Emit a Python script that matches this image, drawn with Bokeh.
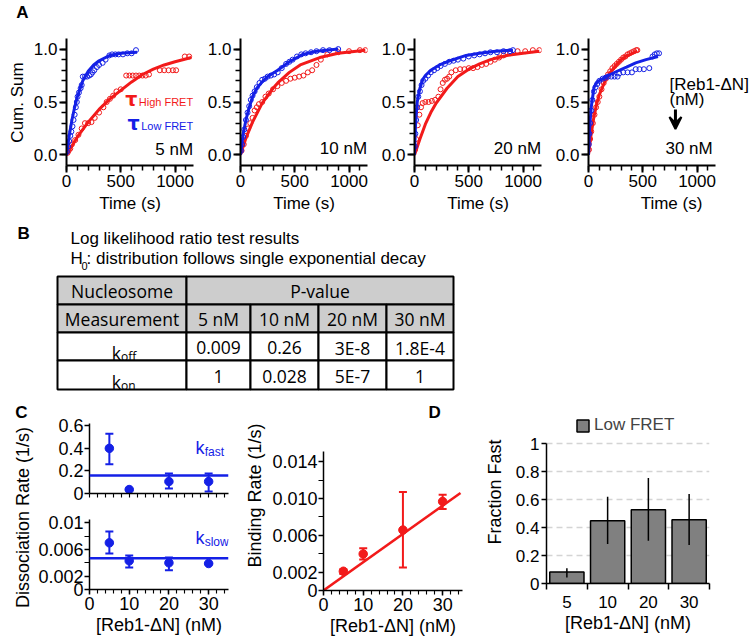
import math
from bokeh.plotting import figure
from bokeh.models import (Range1d, FixedTicker, NumeralTickFormatter, Label, Arrow, VeeHead,
                          Whisker, TeeHead, ColumnDataSource, Legend, LegendItem, Span)
from bokeh.layouts import row, column
from bokeh.embed import file_html
from bokeh.resources import INLINE
from bokeh.core.properties import value

FONT = "Liberation Sans"
TFONT = "Open Sans"
RED = "#f21a1a"
BLUE = "#1420e6"

# ---------------- Panel A data (cumulative sums) ----------------
T_MAX = 1170
# 5 nM
red_dat_t5 = [10, 20, 35, 50, 80, 110, 140, 170, 200, 230, 260, 300, 340, 370, 400, 430, 460, 500, 550, 580, 610, 640, 670, 700, 730, 760, 860, 900, 940, 980, 1010, 1090, 1130]
red_dat_v5 = [0.02, 0.04, 0.06, 0.1, 0.14, 0.19, 0.25, 0.3, 0.3, 0.31, 0.35, 0.4, 0.45, 0.5, 0.53, 0.56, 0.6, 0.62, 0.75, 0.75, 0.75, 0.75, 0.75, 0.75, 0.75, 0.76, 0.8, 0.8, 0.8, 0.8, 0.8, 0.93, 0.93]
red_fit_t5 = [0, 100, 200, 300, 400, 500, 600, 700, 800, 900, 1000, 1150]
red_fit_v5 = [0, 0.17, 0.31, 0.43, 0.53, 0.61, 0.69, 0.76, 0.81, 0.85, 0.88, 0.92]
blue_dat_t5 = [5, 15, 25, 35, 45, 55, 65, 75, 86, 95, 102, 115, 130, 140, 150, 170, 190, 210, 225, 240, 256, 280, 300, 333, 360, 395, 420, 450, 480, 520, 560, 600, 640]
blue_dat_v5 = [0.03, 0.08, 0.13, 0.18, 0.22, 0.27, 0.33, 0.38, 0.45, 0.5, 0.55, 0.59, 0.63, 0.66, 0.74, 0.74, 0.74, 0.75, 0.76, 0.78, 0.8, 0.83, 0.85, 0.87, 0.9, 0.94, 0.95, 0.95, 0.95, 0.95, 0.96, 0.96, 0.99]
blue_fit_t5 = [0, 25, 50, 75, 100, 150, 200, 250, 300, 400, 500, 650]
blue_fit_v5 = [0, 0.18, 0.33, 0.45, 0.55, 0.70, 0.79, 0.85, 0.89, 0.94, 0.96, 0.97]
# 10 nM
red_dat_t10 = [10, 30, 50, 70, 90, 111, 130, 150, 170, 200, 230, 260, 300, 340, 380, 420, 460, 500, 540, 580, 620, 660, 700, 740, 800, 900, 1000, 1100, 1150]
red_dat_v10 = [0.04, 0.1, 0.18, 0.25, 0.3, 0.35, 0.42, 0.45, 0.48, 0.5, 0.55, 0.58, 0.62, 0.65, 0.68, 0.7, 0.72, 0.73, 0.74, 0.75, 0.78, 0.8, 0.85, 0.9, 0.95, 0.97, 0.98, 0.99, 0.99]
red_fit_t10 = [0, 50, 111, 200, 300, 343, 450, 550, 730, 900, 1150]
red_fit_v10 = [0, 0.16, 0.31, 0.49, 0.63, 0.68, 0.78, 0.85, 0.92, 0.96, 0.99]
blue_dat_t10 = [5, 15, 25, 35, 50, 65, 80, 95, 111, 130, 150, 175, 200, 225, 250, 280, 310, 343, 380, 420, 450, 480, 520, 560, 600, 650, 700, 760, 820, 900]
blue_dat_v10 = [0.04, 0.1, 0.17, 0.24, 0.33, 0.4, 0.46, 0.52, 0.56, 0.6, 0.64, 0.68, 0.71, 0.72, 0.74, 0.75, 0.76, 0.78, 0.82, 0.86, 0.88, 0.9, 0.93, 0.95, 0.96, 0.97, 0.98, 0.99, 0.99, 1.0]
blue_fit_t10 = [0, 25, 50, 75, 111, 150, 200, 250, 343, 450, 574, 700, 900]
blue_fit_v10 = [0, 0.2, 0.33, 0.43, 0.55, 0.63, 0.69, 0.74, 0.8, 0.88, 0.95, 0.98, 1.0]
# 20 nM
red_dat_t20 = [5, 15, 30, 45, 60, 75, 100, 130, 160, 190, 220, 240, 260, 280, 300, 320, 340, 380, 420, 460, 500, 540, 580, 620, 660, 700, 740, 780, 820, 880, 950, 1020, 1090, 1150]
red_dat_v20 = [0.05, 0.15, 0.28, 0.38, 0.45, 0.49, 0.5, 0.5, 0.51, 0.52, 0.55, 0.62, 0.68, 0.71, 0.72, 0.74, 0.78, 0.8, 0.81, 0.81, 0.82, 0.82, 0.83, 0.85, 0.86, 0.88, 0.9, 0.92, 0.94, 0.96, 0.98, 0.98, 0.99, 0.99]
red_fit_t20 = [0, 50, 100, 150, 200, 300, 400, 500, 600, 700, 850, 1000, 1150]
red_fit_v20 = [0, 0.15, 0.29, 0.4, 0.49, 0.63, 0.74, 0.81, 0.86, 0.9, 0.94, 0.96, 0.98]
blue_dat_t20 = [3, 8, 15, 25, 35, 50, 65, 80, 100, 125, 150, 180, 210, 240, 280, 320, 360, 400, 450, 500, 550, 600, 650, 700, 760, 820, 880, 907]
blue_dat_v20 = [0.08, 0.2, 0.33, 0.45, 0.55, 0.6, 0.66, 0.7, 0.72, 0.75, 0.78, 0.8, 0.82, 0.84, 0.86, 0.88, 0.89, 0.9, 0.91, 0.93, 0.94, 0.95, 0.96, 0.97, 0.97, 0.98, 0.98, 0.99]
blue_fit_t20 = [0, 10, 25, 50, 75, 100, 150, 230, 300, 475, 600, 750, 907]
blue_fit_v20 = [0, 0.3, 0.5, 0.63, 0.71, 0.75, 0.8, 0.85, 0.88, 0.94, 0.96, 0.98, 0.99]
# 30 nM
red_dat_t30 = [5, 15, 25, 40, 55, 70, 85, 100, 120, 140, 160, 180, 200, 220, 240, 260, 280, 300, 320, 340, 360, 380, 400, 420, 440, 450]
red_dat_v30 = [0.05, 0.15, 0.22, 0.3, 0.38, 0.45, 0.5, 0.55, 0.62, 0.68, 0.72, 0.76, 0.79, 0.82, 0.84, 0.86, 0.88, 0.9, 0.92, 0.93, 0.95, 0.96, 0.97, 0.98, 0.99, 0.99]
red_fit_t30 = [0, 25, 50, 75, 100, 157, 200, 250, 300, 343, 400, 450]
red_fit_v30 = [0, 0.2, 0.36, 0.48, 0.57, 0.71, 0.78, 0.84, 0.9, 0.93, 0.96, 0.98]
blue_dat_t30 = [3, 8, 15, 25, 35, 50, 65, 80, 100, 130, 157, 180, 210, 240, 268, 283, 320, 360, 400, 435, 470, 510, 560, 590, 610, 630, 650]
blue_dat_v30 = [0.1, 0.2, 0.3, 0.42, 0.52, 0.6, 0.64, 0.67, 0.7, 0.72, 0.73, 0.74, 0.74, 0.74, 0.74, 0.77, 0.78, 0.78, 0.78, 0.81, 0.81, 0.81, 0.82, 0.93, 0.95, 0.96, 0.96]
blue_fit_t30 = [0, 10, 25, 51, 80, 130, 200, 283, 350, 435, 530, 640]
blue_fit_v30 = [0, 0.25, 0.45, 0.64, 0.69, 0.72, 0.76, 0.8, 0.83, 0.87, 0.9, 0.93]

time_ticks = [0, 500, 1000]
time_minor = [100 * i for i in range(12)]
cum_ticks = [0.0, 0.5, 1.0]
cum_minor = [0.1 * i for i in range(11)]
CUM_LO, CUM_HI = -0.1, 1.1

# ---------------- Panel B table ----------------
log_title = "Log likelihood ratio test results"
h0_rest = ": distribution follows single exponential decay"
hdr_row1 = ["Nucleosome", "P-value"]
hdr_row2 = ["Measurement", "5 nM", "10 nM", "20 nM", "30 nM"]
row_names = [("k", "off"), ("k", "on")]
koff_p = ["0.009", "0.26", "3E-8", "1.8E-4"]
kon_p = ["1", "0.028", "5E-7", "1"]

# ---------------- Panel C data ----------------
conc = [5, 10, 20, 30]
kfast = [0.40, 0.035, 0.106, 0.106]
kfast_lo = [0.26, 0.035, 0.044, 0.018]
kfast_hi = [0.53, 0.035, 0.177, 0.177]
kfast_mean = 0.159
kslow = [0.0070, 0.0043, 0.0040, 0.0039]
kslow_lo = [0.0054, 0.0033, 0.0029, 0.0039]
kslow_hi = [0.0087, 0.0051, 0.0048, 0.0039]
kslow_mean = 0.0047
kon = [0.00209, 0.00397, 0.00657, 0.00967]
kon_lo = [0.0018, 0.00336, 0.00249, 0.00885]
kon_hi = [0.0023, 0.00458, 0.01069, 0.0104]
kon_fit_x = [0, 34.5]
kon_fit_y = [0, 0.0106]

# ---------------- Panel D data ----------------
d_cats = ["5", "10", "20", "30"]
frac_fast = [0.082, 0.45, 0.529, 0.457]
frac_lo = [0.043, 0.283, 0.306, 0.275]
frac_hi = [0.11, 0.622, 0.755, 0.641]


def style_axes(p, fs="17px", lw=2, tout=7, mout=5):
    for ax in p.axis:
        ax.axis_line_width = lw
        ax.axis_line_color = "black"
        ax.major_tick_line_width = lw
        ax.major_tick_line_color = "black"
        ax.minor_tick_line_width = lw * 0.75
        ax.minor_tick_line_color = "black"
        ax.major_tick_in = 0
        ax.major_tick_out = tout
        ax.minor_tick_in = 0
        ax.minor_tick_out = mout
        ax.major_label_text_font = FONT
        ax.major_label_text_font_size = fs
        ax.major_label_text_color = "black"
        ax.major_label_standoff = 2
        ax.axis_label_text_font = FONT
        ax.axis_label_text_font_size = fs
        ax.axis_label_text_font_style = "normal"
        ax.axis_label_text_color = "black"
        ax.axis_label_standoff = 4
    p.outline_line_color = None


def lab(p, x, y, text, size="17px", color="black", align="left", baseline="alphabetic",
        style="normal", font=FONT, angle=0.0):
    p.add_layout(Label(x=x, y=y, text=text, text_font=font, text_font_size=size,
                       text_color=color, text_align=align, text_baseline=baseline,
                       text_font_style=style, angle=angle))


def text_fig(width, height, x0, x1, ytop, ybot):
    p = figure(width=width, height=height, x_range=Range1d(x0, x1), y_range=Range1d(ybot, ytop),
               min_border=0, x_axis_type=None, y_axis_type=None, output_backend="svg",
               toolbar_location=None)
    p.outline_line_color = None
    p.grid.visible = False
    return p


# Panel A: each frame reaches the top of the page; the axes are bounded to the data span
A_FRAME_H = 127
A_TOP = 38
A_SCALE = A_FRAME_H / (CUM_HI - CUM_LO)
A_YTOP = CUM_HI + A_TOP / A_SCALE
A_FRAME_W = 127


def make_A(rd_t, rd_v, rf_t, rf_v, bd_t, bd_v, bf_t, bf_v, left, right, frame_w=A_FRAME_W):
    p = figure(frame_width=frame_w, frame_height=A_FRAME_H + A_TOP,
               x_range=Range1d(0, T_MAX * frame_w / A_FRAME_W),
               y_range=Range1d(CUM_LO, A_YTOP), min_border_left=left, min_border_right=right,
               min_border_top=0, min_border_bottom=50, output_backend="svg",
               toolbar_location=None)
    p.scatter(rd_t, rd_v, marker="circle", size=5, fill_color=None, line_color=RED, line_width=1)
    p.line(rf_t, rf_v, line_color=RED, line_width=3)
    p.scatter(bd_t, bd_v, marker="circle", size=5, fill_color=None, line_color=BLUE, line_width=1)
    p.line(bf_t, bf_v, line_color=BLUE, line_width=3)
    p.xaxis.ticker = FixedTicker(ticks=time_ticks, minor_ticks=time_minor)
    p.xaxis.bounds = (0, T_MAX)
    p.yaxis.ticker = FixedTicker(ticks=cum_ticks, minor_ticks=cum_minor)
    p.yaxis.bounds = (CUM_LO, CUM_HI)
    p.yaxis.formatter = NumeralTickFormatter(format="0.0")
    p.xaxis.axis_label = "Time (s)"
    p.grid.visible = False
    style_axes(p)
    return p


pA_lab = text_fig(30, 215, 0, 30, 0, 215)
lab(pA_lab, 22, 12, "A", style="bold", align="center", baseline="middle")
lab(pA_lab, 17, 102, "Cum. Sum", align="center", baseline="middle", angle=math.pi / 2)

a1 = make_A(red_dat_t5, red_dat_v5, red_fit_t5, red_fit_v5, blue_dat_t5, blue_dat_v5,
            blue_fit_t5, blue_fit_v5, 34, 10)
a2 = make_A(red_dat_t10, red_dat_v10, red_fit_t10, red_fit_v10, blue_dat_t10, blue_dat_v10,
            blue_fit_t10, blue_fit_v10, 37, 10)
a3 = make_A(red_dat_t20, red_dat_v20, red_fit_t20, red_fit_v20, blue_dat_t20, blue_dat_v20,
            blue_fit_t20, blue_fit_v20, 37, 10)
a4 = make_A(red_dat_t30, red_dat_v30, red_fit_t30, red_fit_v30, blue_dat_t30, blue_dat_v30,
            blue_fit_t30, blue_fit_v30, 37, 1, frame_w=166)

TAU_FONT = "DejaVu Sans"
lab(a1, 654, 0.525, "τ", size="19px", color=RED, align="right", style="bold", font=TAU_FONT)
lab(a1, T_MAX - 3, 0.50, "High FRET", size="11px", color=RED, align="right")
lab(a1, 673, 0.30, "τ", size="19px", color=BLUE, align="right", style="bold", font=TAU_FONT)
lab(a1, T_MAX - 3, 0.275, "Low FRET", size="11px", color=BLUE, align="right")
lab(a1, T_MAX - 4, 0.05, "5 nM", align="right")
lab(a2, T_MAX - 4, 0.06, "10 nM", align="right")
lab(a3, T_MAX - 4, 0.06, "20 nM", align="right")
lab(a4, 746, 0.67, "[Reb1-ΔN]")
lab(a4, 746, 0.52, "(nM)")
a4.add_layout(Arrow(end=VeeHead(size=12, fill_color="black", line_color="black", line_width=2),
                    x_start=801, y_start=0.43, x_end=801, y_end=0.245,
                    line_width=3, line_color="black"))
lab(a4, 709, 0.06, "30 nM")

rowA = row(column(pA_lab), column(a1), column(a2), column(a3), column(a4))

# ---------------- Panel B (page coordinates) ----------------
pB = text_fig(746, 180, 0, 746, 215, 395)

lab(pB, 17, 233, "B", style="bold", baseline="middle")
lab(pB, 70, 238, log_title, baseline="middle")
lab(pB, 70, 258, "H", baseline="middle")
lab(pB, 81, 265, "0", size="11px", baseline="alphabetic")
lab(pB, 86, 258, h0_rest, baseline="middle")

table_left = 57
table_top = 276
col_widths = [129, 64, 68, 68, 67]
row_heights = [28, 28, 28, 29]
GRAY = "#cdcdcd"
col_edges = [table_left]
for w in col_widths:
    col_edges.append(col_edges[-1] + w)
row_edges = [table_top]
for h in row_heights:
    row_edges.append(row_edges[-1] + h)

cl, cr, ct, cb, cf = [], [], [], [], []
tx, ty, tt = [], [], []
spans = [(0, 1), (1, 5)]
for (c0, c1), txt in zip(spans, hdr_row1):
    cl.append(col_edges[c0]); cr.append(col_edges[c1])
    ct.append(row_edges[0]); cb.append(row_edges[1]); cf.append(GRAY)
    tx.append((col_edges[c0] + col_edges[c1]) / 2); ty.append((row_edges[0] + row_edges[1]) / 2); tt.append(txt)
for c, txt in enumerate(hdr_row2):
    cl.append(col_edges[c]); cr.append(col_edges[c + 1])
    ct.append(row_edges[1]); cb.append(row_edges[2]); cf.append(GRAY)
    tx.append((col_edges[c] + col_edges[c + 1]) / 2); ty.append((row_edges[1] + row_edges[2]) / 2); tt.append(txt)
for r, vals in enumerate([koff_p, kon_p]):
    rr = r + 2
    for c in range(5):
        cl.append(col_edges[c]); cr.append(col_edges[c + 1])
        ct.append(row_edges[rr]); cb.append(row_edges[rr + 1]); cf.append("white")
    for c, txt in enumerate(vals):
        tx.append((col_edges[c + 1] + col_edges[c + 2]) / 2)
        ty.append((row_edges[rr] + row_edges[rr + 1]) / 2 + 1)
        tt.append(txt)

pB.quad(left=cl, right=cr, top=ct, bottom=cb, fill_color=cf, line_color="black", line_width=2)
pB.text(x=tx, y=ty, text=tt, text_font=value(TFONT), text_font_size=value("17.5px"),
        text_align="center", text_baseline="middle", text_color="black")
for r, (main, sub) in enumerate(row_names):
    rr = r + 2
    cx = (col_edges[0] + col_edges[1]) / 2 - 1
    base = row_edges[rr + 1] - 8
    lab(pB, cx, base, main, size="17.5px", font=TFONT, align="right")
    lab(pB, cx, base + 4, sub, size="12px", font=TFONT, align="left")

# ---------------- Panel C ----------------
pC_lab = text_fig(35, 240, 0, 35, 395, 635)
lab(pC_lab, 21, 412, "C", style="bold", align="center", baseline="middle")
lab(pC_lab, 22, 517, "Dissociation Rate (1/s)", size="18px", align="center",
    baseline="middle", angle=math.pi / 2)

conc_minor = [2 * i for i in range(18)]
conc_major = [0, 10, 20, 30]


def make_k(vals, lo, hi, mean, yr, yticks, yminor, top, bottom, xlabel, fmt_over):
    p = figure(frame_width=139, frame_height=70, x_range=Range1d(0, 35), y_range=Range1d(0, yr),
               min_border_left=52, min_border_right=14, min_border_top=top,
               min_border_bottom=bottom, output_backend="svg", toolbar_location=None)
    p.add_layout(Span(location=mean, dimension="width", line_color=BLUE, line_width=2.5))
    src = ColumnDataSource(dict(x=conc, y=vals, lo=lo, hi=hi))
    p.add_layout(Whisker(source=src, base="x", lower="lo", upper="hi", line_color=BLUE,
                         line_width=2,
                         lower_head=TeeHead(size=8, line_color=BLUE, line_width=2),
                         upper_head=TeeHead(size=8, line_color=BLUE, line_width=2)))
    p.scatter("x", "y", source=src, marker="circle", size=8.5, color=BLUE)
    p.yaxis.ticker = FixedTicker(ticks=yticks, minor_ticks=yminor)
    p.yaxis.major_label_overrides = fmt_over
    p.grid.visible = False
    style_axes(p, fs="18px", lw=1.5, tout=5, mout=4)
    p.yaxis.minor_tick_out = 5
    p.yaxis.major_label_standoff = 1
    if xlabel:
        p.xaxis.ticker = FixedTicker(ticks=conc_major, minor_ticks=conc_minor)
        p.xaxis.major_label_overrides = {0: "0", 10: "10", 20: "20", 30: "30"}
        p.xaxis.axis_label = xlabel
        p.xaxis.axis_label_standoff = 2
    else:
        p.xaxis.ticker = FixedTicker(ticks=[], minor_ticks=conc_minor)
    return p


p_fast = make_k(kfast, kfast_lo, kfast_hi, kfast_mean, 0.62, [0, 0.2, 0.4, 0.6], [], 28, 17,
                None, {0: "0", 0.2: "0.2", 0.4: "0.4", 0.6: "0.6"})
p_slow = make_k(kslow, kslow_lo, kslow_hi, kslow_mean, 0.0105, [0, 0.002, 0.006, 0.01],
                [0.004, 0.008], 9, 46, "[Reb1-ΔN] (nM)",
                {0: "0", 0.002: "0.002", 0.006: "0.006", 0.01: "0.01"})
lab(p_fast, 26.7, 0.405, "k", size="18px", color=BLUE)
lab(p_fast, 29.0, 0.37, "fast", size="12px", color=BLUE)
lab(p_slow, 26.7, 0.0077, "k", size="18px", color=BLUE)
lab(p_slow, 29.0, 0.0071, "slow", size="12px", color=BLUE)

# Binding rate: frame reaches up to the top of the row, axis bounded to 0..0.0151
BIND_HI = 0.0151
BIND_FRAME = 139
BIND_EXTRA = 51
p_bind = figure(frame_width=139, frame_height=BIND_FRAME + BIND_EXTRA, x_range=Range1d(0, 35),
                y_range=Range1d(0, BIND_HI * (BIND_FRAME + BIND_EXTRA) / BIND_FRAME),
                min_border_left=81, min_border_right=18,
                min_border_top=5, min_border_bottom=45, output_backend="svg",
                toolbar_location=None)
p_bind.line(kon_fit_x, kon_fit_y, line_color=RED, line_width=2.5)
src_b = ColumnDataSource(dict(x=conc, y=kon, lo=kon_lo, hi=kon_hi))
p_bind.add_layout(Whisker(source=src_b, base="x", lower="lo", upper="hi", line_color=RED,
                          line_width=2,
                          lower_head=TeeHead(size=8, line_color=RED, line_width=2),
                          upper_head=TeeHead(size=8, line_color=RED, line_width=2)))
p_bind.scatter("x", "y", source=src_b, marker="circle", size=8.5, color=RED)
p_bind.xaxis.ticker = FixedTicker(ticks=conc_major, minor_ticks=conc_minor)
p_bind.yaxis.ticker = FixedTicker(ticks=[0, 0.002, 0.006, 0.010, 0.014],
                                  minor_ticks=[0.004, 0.008, 0.012])
p_bind.yaxis.bounds = (0, BIND_HI)
p_bind.yaxis.major_label_overrides = {0: "0", 0.002: "0.002", 0.006: "0.006",
                                      0.01: "0.010", 0.014: "0.014"}
p_bind.xaxis.major_label_overrides = {0: "0", 10: "10", 20: "20", 30: "30"}
p_bind.xaxis.axis_label = "[Reb1-ΔN] (nM)"
p_bind.yaxis.axis_label = "Binding Rate (1/s)"
p_bind.grid.visible = False
style_axes(p_bind, fs="18px", lw=1.5, tout=5, mout=4)
p_bind.yaxis.minor_tick_out = 5
p_bind.yaxis.major_label_standoff = 1
p_bind.xaxis.axis_label_standoff = 2
lab(p_bind, 28, 0.0193, "D", style="bold", align="center", baseline="middle")

# ---------------- Panel D ----------------
d_pos = [i + 0.5 for i in range(len(d_cats))]
D_FRAME = 140
D_EXTRA = 43
pD = figure(frame_width=163, frame_height=D_FRAME + D_EXTRA, x_range=Range1d(0, len(d_cats)),
            y_range=Range1d(0, 1.003 * (D_FRAME + D_EXTRA) / D_FRAME),
            min_border_left=66, min_border_right=39,
            min_border_top=5, min_border_bottom=52, output_backend="svg",
            toolbar_location=None)
bars = pD.vbar(x=d_pos, top=frac_fast, width=0.84, fill_color="#808080", line_color="black",
               line_width=1.5)
pD.segment(x0=d_pos, y0=frac_lo, x1=d_pos, y1=frac_hi, line_color="black", line_width=1.5)
pD.xaxis.ticker = FixedTicker(ticks=d_pos, minor_ticks=list(range(len(d_cats) + 1)))
pD.xaxis.major_label_overrides = {pos: c for pos, c in zip(d_pos, d_cats)}
pD.yaxis.ticker = FixedTicker(ticks=[0, 0.2, 0.4, 0.6, 0.8, 1.0])
pD.yaxis.bounds = (0, 1.0)
pD.yaxis.major_label_overrides = {0: "0", 0.2: "0.2", 0.4: "0.4", 0.6: "0.6", 0.8: "0.8", 1.0: "1"}
pD.xaxis.axis_label = "[Reb1-ΔN] (nM)"
pD.yaxis.axis_label = "Fraction Fast"
style_axes(pD, fs="17px", lw=1.5, tout=5, mout=6)
pD.xaxis.major_tick_out = 0
pD.xaxis.minor_tick_line_width = 1.5
pD.xaxis.major_label_standoff = 6
pD.xaxis.axis_label_standoff = 2
pD.yaxis.axis_label_standoff = 8
pD.xaxis.axis_label_text_font_size = "18px"
pD.yaxis.axis_label_text_font_size = "18px"
pD.xgrid.visible = False
pD.ygrid.ticker = FixedTicker(ticks=[0.2, 0.4, 0.6, 0.8, 1.0])
pD.ygrid.grid_line_color = "#d4d4d4"
pD.ygrid.grid_line_width = 1.5
pD.ygrid.grid_line_dash = "6 4"
leg = Legend(items=[LegendItem(label="Low FRET", renderers=[bars])], location=(29, 148),
             orientation="horizontal", padding=0, margin=0, border_line_color=None,
             background_fill_alpha=0, label_text_font=FONT, label_text_font_size="17px",
             glyph_width=15, glyph_height=15, label_standoff=4)
pD.add_layout(leg)

rowC = row(column(pC_lab), column(p_fast, p_slow), column(p_bind), column(pD))

layout = column(rowA, pB, rowC)

open("out.html", "w").write(file_html(layout, INLINE, "figure"))
